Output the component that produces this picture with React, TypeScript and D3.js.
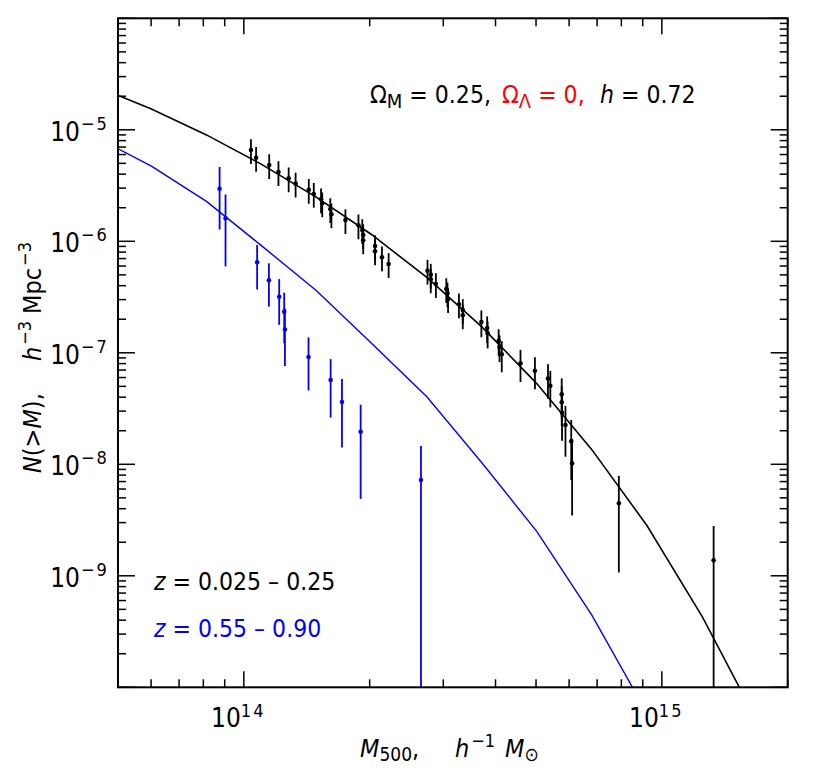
import * as d3 from 'd3'

// cluster mass function, two redshift bins (masses in 1e14 h^-1 Msun)
const massLow = [1.04, 1.07, 1.15, 1.21, 1.28, 1.33, 1.43, 1.47, 1.53, 1.54, 1.61, 1.62, 1.75, 1.88, 1.92, 1.93, 1.93, 2.06, 2.06, 2.14, 2.22, 2.75, 2.80, 2.80, 2.88, 3.05, 3.07, 3.08, 3.27, 3.34, 3.34, 3.70, 3.82, 3.83, 4.07, 4.09, 4.14, 4.59, 4.97, 5.34, 5.41, 5.76, 5.76, 5.77, 5.88, 6.07, 6.10, 7.89, 13.3]
const nLow = [6.59e-6, 5.62e-6, 4.83e-6, 4.18e-6, 3.67e-6, 3.29e-6, 2.90e-6, 2.66e-6, 2.38e-6, 2.19e-6, 1.95e-6, 1.75e-6, 1.55e-6, 1.39e-6, 1.26e-6, 1.14e-6, 1.02e-6, 9.07e-7, 8.13e-7, 7.19e-7, 6.26e-7, 5.45e-7, 5.02e-7, 4.56e-7, 4.14e-7, 3.73e-7, 3.42e-7, 3.04e-7, 2.72e-7, 2.42e-7, 2.17e-7, 1.89e-7, 1.67e-7, 1.50e-7, 1.28e-7, 1.13e-7, 9.69e-8, 8.05e-8, 6.91e-8, 5.88e-8, 5.06e-8, 4.24e-8, 3.60e-8, 2.90e-8, 2.25e-8, 1.61e-8, 1.02e-8, 4.47e-9, 1.38e-9]
const errLow = [0.25, 0.25, 0.25, 0.25, 0.25, 0.25, 0.25, 0.25, 0.25, 0.25, 0.25, 0.25, 0.25, 0.25, 0.25, 0.25, 0.25, 0.25, 0.25, 0.25, 0.25, 0.25, 0.25, 0.25, 0.25, 0.25, 0.25, 0.25, 0.25, 0.25, 0.25, 0.27, 0.27, 0.27, 0.27, 0.27, 0.31, 0.32, 0.32, 0.34, 0.36, 0.39, 0.39, 0.44, 0.48, 0.55, 0.66, 0.76, 1.03]

const massHigh = [0.875, 0.904, 1.076, 1.148, 1.215, 1.249, 1.254, 1.428, 1.613, 1.717, 1.903, 2.653]
const nHigh = [2.96e-6, 1.61e-6, 6.48e-7, 4.47e-7, 3.18e-7, 2.34e-7, 1.62e-7, 9.17e-8, 5.70e-8, 3.62e-8, 1.96e-8, 7.23e-9]
const errHigh = [0.57, 0.63, 0.43, 0.42, 0.44, 0.48, 0.53, 0.50, 0.54, 0.61, 0.75, 1.02]

// model curves
const modelMass = [0.444, 0.601, 0.814, 1.10, 1.49, 2.02, 2.74, 3.71, 5.02, 6.80, 9.21, 12.5, 16.9]
const modelLow = [2.445e-5, 1.537e-5, 9.00e-6, 4.92e-6, 2.49e-6, 1.151e-6, 4.745e-7, 1.707e-7, 5.295e-8, 1.354e-8, 2.826e-9, 4.288e-10, 4.956e-11]
const modelHigh = [8.51e-6, 4.72e-6, 2.28e-6, 9.19e-7, 3.62e-7, 1.217e-7, 4.04e-8, 1.033e-8, 2.50e-9, 4.44e-10, 5.88e-11]

const xDomain = [5e13, 2e15]
const yDomain = [1e-10, 1e-4]
const xLabels = [14, 15]
const yLabels = [-9, -8, -7, -6, -5]

const width = 830, height = 778
const left = 118, right = 787.7, top = 18.3, bottom = 687.3
const font = '"Liberation Sans Narrow", "DejaVu Sans Condensed", "Liberation Sans", sans-serif'
const BLUE = '#0000ff', RED = '#ff0000'

const x = d3.scaleLog().domain(xDomain).range([left, right])
const y = d3.scaleLog().domain(yDomain).range([bottom, top])

const isMajor = (v) => Math.abs(Math.log10(v) - Math.round(Math.log10(v))) < 1e-6

const line = d3.line().x(d => x(d[0] * 1e14)).y(d => y(d[1]))

const ErrPoints = ({ mass, n, err, color, w, r }) => (
  <g>
    {mass.map((m, i) => {
      const cx = x(m * 1e14)
      const lo = Math.max(n[i] * (1 - err[i]), yDomain[0])
      const hi = n[i] * (1 + err[i])
      return (
        <g key={i}>
          <line x1={cx} x2={cx} y1={y(lo)} y2={y(hi)} stroke={color} strokeWidth={w}/>
          <circle cx={cx} cy={y(n[i])} r={r} fill={color}/>
        </g>
      )
    })}
  </g>
)

export default function App() {
  const xt = x.ticks()
  const yt = y.ticks()
  return (
    <svg width={width} height={height} style={{ position: 'absolute', left: 0, top: 0, background: '#fff', whiteSpace: 'pre' }}
      fontFamily={font}>
      <defs>
        <clipPath id="plot"><rect x={left} y={top} width={right - left} height={bottom - top}/></clipPath>
      </defs>

      {/* ticks on all four sides */}
      <g stroke="#000" strokeWidth={1.5}>
        {xt.map((t, i) => {
          const len = isMajor(t) ? 16 : 8
          return (
            <g key={i}>
              <line x1={x(t)} x2={x(t)} y1={bottom} y2={bottom - len}/>
              <line x1={x(t)} x2={x(t)} y1={top} y2={top + len}/>
            </g>
          )
        })}
        {yt.map((t, i) => {
          const len = isMajor(t) ? 17 : 8
          return (
            <g key={i}>
              <line x1={left} x2={left + len} y1={y(t)} y2={y(t)}/>
              <line x1={right} x2={right - len} y1={y(t)} y2={y(t)}/>
            </g>
          )
        })}
      </g>

      <g clipPath="url(#plot)" fill="none">
        <path d={line(modelMass.map((m, i) => [m, modelLow[i]]))} stroke="#000" strokeWidth={1.6}/>
        <path d={line(modelMass.slice(0, modelHigh.length).map((m, i) => [m, modelHigh[i]]))} stroke={BLUE} strokeWidth={1.4}/>
      </g>
      <g clipPath="url(#plot)">
        <ErrPoints mass={massLow} n={nLow} err={errLow} color="#000" w={1.8} r={2.3}/>
        <ErrPoints mass={massHigh} n={nHigh} err={errHigh} color={BLUE} w={1.8} r={2.3}/>
      </g>

      <rect x={left} y={top} width={right - left} height={bottom - top} fill="none" stroke="#000" strokeWidth={2}/>

      {/* tick labels */}
      {xLabels.map(e => (
        <g key={e} fontSize={26}>
          <text x={x(10 ** e) - 3} y={726.7} textAnchor="end">10</text>
          <text x={x(10 ** e) - 3} y={717} fontSize={18} letterSpacing={2}>{e}</text>
        </g>
      ))}
      {yLabels.map(e => (
        <g key={e} fontSize={26}>
          <text x={80} y={y(10 ** e) + 11} textAnchor="end">10</text>
          <text x={81} y={y(10 ** e) + 0} fontSize={18} letterSpacing={2}>{'\u2212' + (-e)}</text>
        </g>
      ))}

      {/* axis titles */}
      <text y={757} fontSize={25}>
        <tspan x={360} fontStyle="italic">M</tspan>
        <tspan fontSize={19} dy={4}>500</tspan>
        <tspan dy={-4}>,</tspan>
        <tspan x={455} fontStyle="italic">h</tspan>
        <tspan fontSize={18} dy={-10} dx={2}>{'\u22121'}</tspan>
        <tspan x={505} dy={10} fontStyle="italic">M</tspan>
        <tspan fontSize={19} dy={4}>{'\u2299'}</tspan>
      </text>
      <text transform="translate(41,0) rotate(-90)" fontSize={25}>
        <tspan x={-473} fontStyle="italic">N</tspan>
        <tspan>(&gt;</tspan>
        <tspan fontStyle="italic">M</tspan>
        <tspan>),</tspan>
        <tspan x={-361} fontStyle="italic">h</tspan>
        <tspan fontSize={18} dy={-10} dx={2}>{'\u22123'}</tspan>
        <tspan x={-314} dy={10}>Mpc</tspan>
        <tspan fontSize={18} dy={-10} dx={2}>{'\u22123'}</tspan>
      </text>

      {/* cosmology annotation */}
      <text y={103} fontSize={24.5}>
        <tspan x={370}>Ω</tspan>
        <tspan fontSize={20} dy={5}>M</tspan>
        <tspan dy={-5}> = 0.25,</tspan>
        <tspan x={502} fill={RED}>Ω</tspan>
        <tspan fill={RED} fontSize={20} dy={5}>Λ</tspan>
        <tspan fill={RED} dy={-5}> = 0,</tspan>
        <tspan x={600} fontStyle="italic">h</tspan>
        <tspan> = 0.72</tspan>
      </text>

      {/* redshift legend */}
      <text x={154} y={590} fontSize={24.5}>
        <tspan fontStyle="italic">z</tspan>
        <tspan> = 0.025 – 0.25</tspan>
      </text>
      <text x={154} y={636.7} fontSize={24.5} fill={BLUE}>
        <tspan fontStyle="italic">z</tspan>
        <tspan> = 0.55 – 0.90</tspan>
      </text>
    </svg>
  )
}
